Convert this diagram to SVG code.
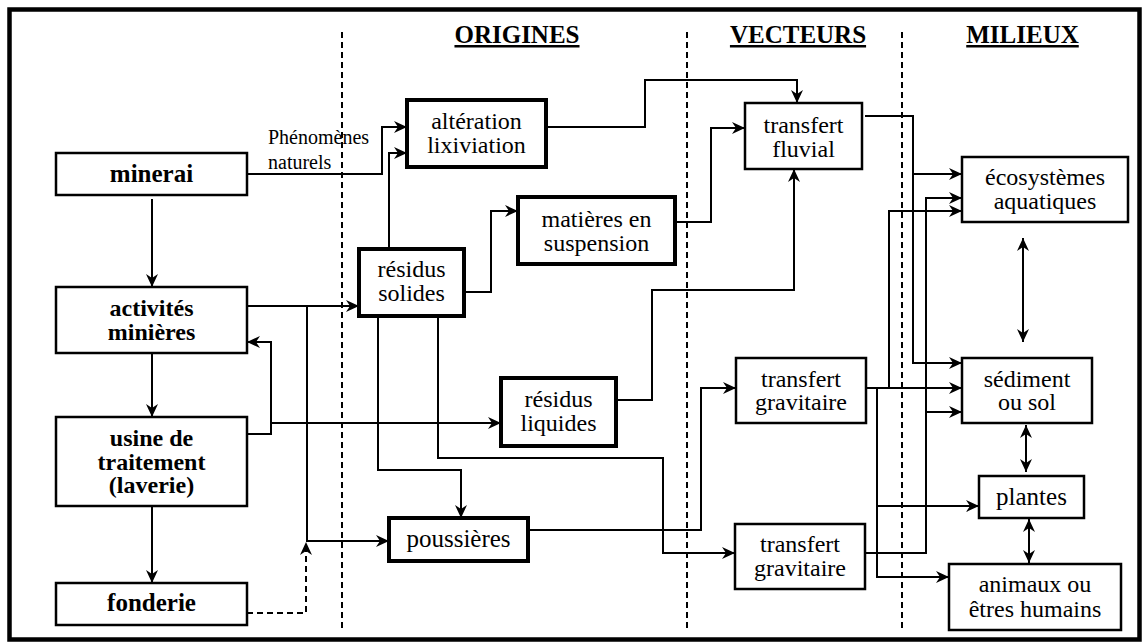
<svg xmlns="http://www.w3.org/2000/svg" width="1142" height="644" viewBox="0 0 1142 644" font-family="'Liberation Serif', 'DejaVu Serif', 'Times New Roman', serif">
<style>
.frame{fill:#fff;stroke:#000;stroke-width:4.5}
.sep{stroke:#000;stroke-width:2;stroke-dasharray:6 4;fill:none}
.box{fill:#fff;stroke:#000;stroke-width:2.5}
.thick{stroke-width:4}
.conn{fill:none;stroke:#000;stroke-width:2}
.dash{stroke-dasharray:6 4}
text{font-family:'Liberation Serif','DejaVu Serif','Times New Roman',serif;font-size:24px;text-anchor:middle;fill:#000}
.one{font-size:25px}
.b{font-weight:bold}
.hd{font-weight:bold;text-decoration:underline;font-size:25px}
.small{font-size:20px;text-anchor:start}
</style>
<defs>
<marker id="arr" markerUnits="userSpaceOnUse" markerWidth="14" markerHeight="14" refX="13" refY="6" orient="auto">
<path d="M0,0 L13,6 L0,12 L4,6 Z" fill="#000"/>
</marker>
<marker id="arr2" markerUnits="userSpaceOnUse" markerWidth="14" markerHeight="14" refX="13" refY="6" orient="auto-start-reverse">
<path d="M0,0 L13,6 L0,12 L4,6 Z" fill="#000"/>
</marker>
</defs>
<rect class="frame" x="9.5" y="9.5" width="1130" height="630"/>
<g id="separators">
<line class="sep" x1="342" y1="32" x2="342" y2="632"/>
<line class="sep" x1="687" y1="32" x2="687" y2="632"/>
<line class="sep" x1="902" y1="32" x2="902" y2="632"/>
</g>
<g id="headers">
<text class="hd" x="517" y="43">ORIGINES</text>
<text class="hd" x="798" y="43">VECTEURS</text>
<text class="hd" x="1022.5" y="43">MILIEUX</text>
</g>
<g id="connectors">
<path class="conn" marker-end="url(#arr)" d="M152,199 V287"/>
<path class="conn" marker-end="url(#arr)" d="M152,353 V417"/>
<path class="conn" marker-end="url(#arr)" d="M152,506 V583"/>
<path class="conn" marker-end="url(#arr)" d="M247,174 H382 V127 H407"/>
<path class="conn" marker-end="url(#arr)" d="M389,249 V153 H407"/>
<path class="conn" marker-end="url(#arr)" d="M546,127 H645 V80 H797 V103"/>
<path class="conn" marker-end="url(#arr)" d="M675,222 H711 V128 H745"/>
<path class="conn" marker-end="url(#arr)" d="M616,400 H652 V290 H794 V169"/>
<path class="conn" marker-end="url(#arr)" d="M464,292 H491 V211 H518"/>
<path class="conn" marker-end="url(#arr)" d="M247,306 H359"/>
<path class="conn" marker-end="url(#arr)" d="M307,306 V541 H389"/>
<path class="conn dash" marker-end="url(#arr)" d="M247,613 H306 V542"/>
<path class="conn" marker-end="url(#arr)" d="M247,434 H271 V342 H247"/>
<path class="conn" marker-end="url(#arr)" d="M271,423 H501"/>
<path class="conn" marker-end="url(#arr)" d="M378,316 V470 H461 V518"/>
<path class="conn" marker-end="url(#arr)" d="M438,316 V458 H663 V553 H735"/>
<path class="conn" marker-end="url(#arr)" d="M528,530 H701 V388 H736"/>
<path class="conn" marker-end="url(#arr)" d="M865,116 H913 V174 H962"/>
<path class="conn" marker-end="url(#arr)" d="M913,174 V363 H962"/>
<path class="conn" marker-end="url(#arr)" d="M866,388 H962"/>
<path class="conn" marker-end="url(#arr)" d="M889,388 V211 H962"/>
<path class="conn" marker-end="url(#arr)" d="M877,388 V506 H979"/>
<path class="conn" marker-end="url(#arr)" d="M877,506 V577 H949"/>
<path class="conn" marker-end="url(#arr)" d="M865,553 H926 V198 H962"/>
<path class="conn" marker-end="url(#arr)" d="M926,412 H962"/>
<path class="conn" marker-start="url(#arr2)" marker-end="url(#arr2)" d="M1023,238 V342"/>
<path class="conn" marker-start="url(#arr2)" marker-end="url(#arr2)" d="M1026,425 V472"/>
<path class="conn" marker-start="url(#arr2)" marker-end="url(#arr2)" d="M1029,519 V563"/>
<text class="small" x="268" y="144">Phénomènes</text>
<text class="small" x="268" y="169">naturels</text>
</g>
<g id="minerai">
<rect class="box" x="56" y="153" width="191" height="42"/>
<text class="b one" x="151.5" y="182">minerai</text>
</g>
<g id="activites">
<rect class="box" x="56" y="287" width="191" height="66"/>
<text class="b" x="151.5" y="316">activités</text>
<text class="b" x="151.5" y="339.5">minières</text>
</g>
<g id="usine">
<rect class="box" x="56" y="417" width="191" height="89"/>
<text class="b" x="151.5" y="446">usine de</text>
<text class="b" x="151.5" y="469.5">traitement</text>
<text class="b" x="151.5" y="493">(laverie)</text>
</g>
<g id="fonderie">
<rect class="box" x="56" y="583" width="191" height="42"/>
<text class="b one" x="151.5" y="611">fonderie</text>
</g>
<g id="alteration">
<rect class="box thick" x="407" y="100" width="139" height="67"/>
<text x="476.5" y="129">altération</text>
<text x="476.5" y="152.5">lixiviation</text>
</g>
<g id="matieres">
<rect class="box thick" x="518" y="197" width="157" height="67"/>
<text x="596.5" y="227">matières en</text>
<text x="596.5" y="251">suspension</text>
</g>
<g id="residus-solides">
<rect class="box thick" x="359" y="249" width="105" height="67"/>
<text x="411.5" y="277">résidus</text>
<text x="411.5" y="301">solides</text>
</g>
<g id="residus-liquides">
<rect class="box thick" x="501" y="378" width="115" height="68"/>
<text x="558.5" y="407">résidus</text>
<text x="558.5" y="430.5">liquides</text>
</g>
<g id="poussieres">
<rect class="box thick" x="389" y="518" width="139" height="43"/>
<text class="one" x="458.5" y="547">poussières</text>
</g>
<g id="transfert-fluvial">
<rect class="box" x="745" y="103" width="117" height="66"/>
<text x="803.5" y="132.5">transfert</text>
<text x="803.5" y="156.5">fluvial</text>
</g>
<g id="transfert-gravitaire-1">
<rect class="box" x="736" y="358" width="130" height="65"/>
<text x="801" y="386.5">transfert</text>
<text x="801" y="410">gravitaire</text>
</g>
<g id="transfert-gravitaire-2">
<rect class="box" x="735" y="524" width="130" height="65"/>
<text x="800" y="552">transfert</text>
<text x="800" y="575.5">gravitaire</text>
</g>
<g id="ecosystemes">
<rect class="box" x="962" y="157" width="166" height="65"/>
<text x="1045" y="185">écosystèmes</text>
<text x="1045" y="208.5">aquatiques</text>
</g>
<g id="sediment">
<rect class="box" x="962" y="358" width="130" height="65"/>
<text x="1027" y="386.5">sédiment</text>
<text x="1027" y="410">ou sol</text>
</g>
<g id="plantes">
<rect class="box" x="979" y="476" width="105" height="42"/>
<text class="one" x="1031.5" y="505">plantes</text>
</g>
<g id="animaux">
<rect class="box" x="949" y="564" width="172" height="66"/>
<text x="1035" y="592">animaux ou</text>
<text x="1035" y="616.5">êtres humains</text>
</g>
</svg>
